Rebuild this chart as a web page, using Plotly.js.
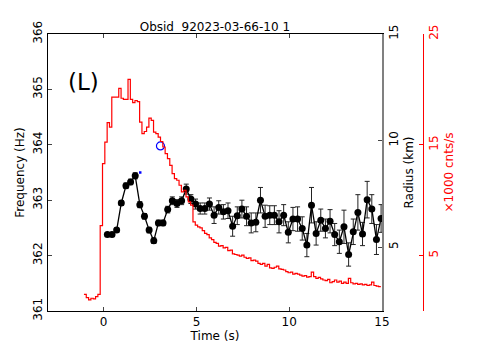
<!DOCTYPE html>
<html>
<head>
<meta charset="utf-8">
<script src="https://cdn.plot.ly/plotly-3.0.1.min.js"></script>
<style>
  html, body { margin: 0; padding: 0; background: #fff; }
  #chart { width: 479px; height: 346px; }
</style>
</head>
<body>
<div id="chart"></div>
<script>
// count-rate histogram (x1000 cnts/s), 0.125 s bins starting at -1.0625 s
var binStart = -1.0625
var binWidth = 0.125
var rate = [
  1.5, 1.2, 1.0, 1.15, 1.1, 1.3, 1.5, 7.7, 13.3, 15.25,
  17.0, 16.6, 19.3, 19.3, 19.3, 20.1, 19.2, 19.1, 19.1, 20.9,
  19.1, 18.8, 19.0, 18.9, 17.05, 16.0, 16.2, 16.6, 17.4, 17.2,
  16.15, 16.0, 15.7, 15.3, 14.8, 14.2, 13.75, 13.15, 12.4, 11.95,
  11.8, 11.35, 10.75, 10.9, 10.3, 9.85, 9.55, 8.05, 7.75, 7.6,
  7.5, 7.25, 7.0, 6.9, 6.6, 6.45, 6.2, 6.1, 5.85, 5.9,
  5.7, 5.75, 5.45, 5.5, 5.15, 5.1, 5.05, 4.95, 5.05, 4.85,
  4.75, 4.8, 4.55, 4.6, 4.5, 4.3, 4.2, 4.3, 4.05, 4.2,
  3.9, 3.85, 3.95, 4.05, 3.8, 3.75, 3.7, 3.55, 3.45, 3.5,
  3.33, 3.4, 3.33, 3.24, 3.15, 3.2, 3.05, 3.1, 3.5, 3.1,
  2.95, 3.03, 2.9, 2.8, 2.75, 2.85, 2.55, 2.65, 2.8, 2.6,
  2.7, 2.5, 2.6, 2.5, 2.95, 2.55, 2.45, 2.5, 2.4, 2.45,
  2.35, 2.4, 2.3, 2.35, 2.6, 2.3, 2.25, 2.2
]

// burst oscillation frequency, 0.25 s steps from 0.2 s
var tStart = 0.2
var tStep = 0.25
var freq = [
  362.38, 362.38, 362.46, 362.95, 363.26, 363.33, 363.44, 362.92, 362.71, 362.46,
  362.27, 362.59, 362.59, 362.83, 362.99, 362.94, 362.99, 363.20, 363.02, 362.93,
  362.85, 362.85, 362.93, 362.73, 362.87, 362.79, 362.81, 362.53, 362.72, 362.84,
  362.71, 362.59, 362.60, 363.00, 362.71, 362.73, 362.73, 362.61, 362.73, 362.42,
  362.66, 362.66, 362.49, 362.19, 362.91, 362.40, 362.64, 362.49, 362.62, 362.38,
  362.25, 362.52, 362.02, 362.43, 362.78, 362.39, 363.01, 362.84, 362.29, 362.67
]
var freqErr = [
  0.035, 0.035, 0.04, 0.045, 0.05, 0.05, 0.055, 0.055, 0.05, 0.05,
  0.05, 0.05, 0.05, 0.06, 0.07, 0.07, 0.07, 0.09, 0.08, 0.09,
  0.1, 0.1, 0.11, 0.15, 0.12, 0.13, 0.14, 0.18, 0.16, 0.16,
  0.17, 0.18, 0.17, 0.23, 0.2, 0.17, 0.17, 0.2, 0.19, 0.19,
  0.21, 0.22, 0.21, 0.21, 0.32, 0.21, 0.2, 0.17, 0.21, 0.2,
  0.21, 0.3, 0.21, 0.23, 0.32, 0.21, 0.33, 0.26, 0.27, 0.25
]

// blue markers
var blueOpenT = [3.06], blueOpenF = [363.98]
var blueDotT = [1.97], blueDotF = [363.50]

var FONT = 'DejaVu Sans, sans-serif'

var histX = rate.map(function (v, i) { return binStart + i * binWidth })
histX.push(binStart + rate.length * binWidth)
var histY = rate.concat([rate[rate.length - 1]])

var freqT = freq.map(function (v, i) { return tStart + i * tStep })

var countTrace = {
  x: histX, y: histY, yaxis: 'y3',
  mode: 'lines', line: {shape: 'hv', color: '#ff0000', width: 1.2},
  showlegend: false, hoverinfo: 'skip'
}
// empty trace so the radius axis gets drawn
var radiusTrace = {
  x: [null], y: [null], yaxis: 'y2', mode: 'markers',
  showlegend: false, hoverinfo: 'skip'
}
var freqTrace = {
  x: freqT, y: freq,
  mode: 'lines+markers',
  line: {color: '#000', width: 1.3},
  marker: {color: '#000', size: 7},
  error_y: {type: 'data', array: freqErr, visible: true, color: '#222', thickness: 1, width: 2.5},
  showlegend: false
}
var blueOpen = {
  x: blueOpenT, y: blueOpenF, mode: 'markers',
  marker: {symbol: 'circle-open', color: '#0000ff', size: 8, line: {width: 1.2}},
  showlegend: false
}
var blueDot = {
  x: blueDotT, y: blueDotF, mode: 'markers',
  marker: {symbol: 'square', color: '#0000ff', size: 2.5},
  showlegend: false
}

var layout = {
  width: 479, height: 346,
  margin: {l: 48, r: 56, t: 34, b: 35},
  paper_bgcolor: '#fff', plot_bgcolor: '#fff',
  font: {family: FONT, size: 12, color: '#000'},
  title: {
    text: 'Obsid&nbsp; 92023-03-66-10 1',
    font: {family: FONT, size: 12, color: '#000'},
    xref: 'paper', x: 0.445, xanchor: 'center',
    yref: 'paper', y: 1, yanchor: 'bottom', pad: {b: 3}
  },
  xaxis: {
    domain: [0, 0.8907], range: [-3, 15],
    tickvals: [0, 5, 10, 15], ticks: 'inside', ticklen: 4,
    showline: true, linecolor: '#000', linewidth: 1, mirror: 'ticks',
    showgrid: false, zeroline: false,
    tickfont: {size: 12},
    title: {text: 'Time (s)', font: {size: 12}, standoff: 2}
  },
  yaxis: {
    range: [361, 366], dtick: 1, ticks: 'inside', ticklen: 4,
    showline: true, linecolor: '#000', linewidth: 1,
    showgrid: false, zeroline: false, tickangle: -90,
    tickfont: {size: 12},
    title: {text: 'Frequency (Hz)', font: {size: 12}, standoff: 4}
  },
  yaxis2: {
    overlaying: 'y', side: 'right', anchor: 'x',
    range: [2, 15], tickvals: [5, 10, 15], ticks: 'inside', ticklen: 4,
    showline: true, linecolor: '#808080', linewidth: 2,
    showgrid: false, zeroline: false, tickangle: -90,
    tickfont: {size: 12},
    title: {text: 'Radius (km)', font: {size: 12}, standoff: 4}
  },
  yaxis3: {
    overlaying: 'y', side: 'right', anchor: 'free', position: 1,
    range: [0, 25], tickvals: [5, 15, 25], ticks: 'inside', ticklen: 4,
    showline: true, linecolor: '#ff0000', linewidth: 1, tickcolor: '#ff0000',
    showgrid: false, zeroline: false, tickangle: -90,
    tickfont: {size: 12, color: '#ff0000'},
    title: {text: '×1000 cnts/s', font: {size: 12, color: '#ff0000'}, standoff: 4}
  },
  annotations: [{
    text: '(L)', xref: 'paper', yref: 'paper', x: 0.0947, y: 0.827,
    xanchor: 'center', yanchor: 'middle', showarrow: false,
    font: {family: FONT, size: 23, color: '#000'}
  }]
}

Plotly.newPlot('chart', [countTrace, radiusTrace, freqTrace, blueOpen, blueDot], layout, {displayModeBar: false, staticPlot: true})
</script>
</body>
</html>
